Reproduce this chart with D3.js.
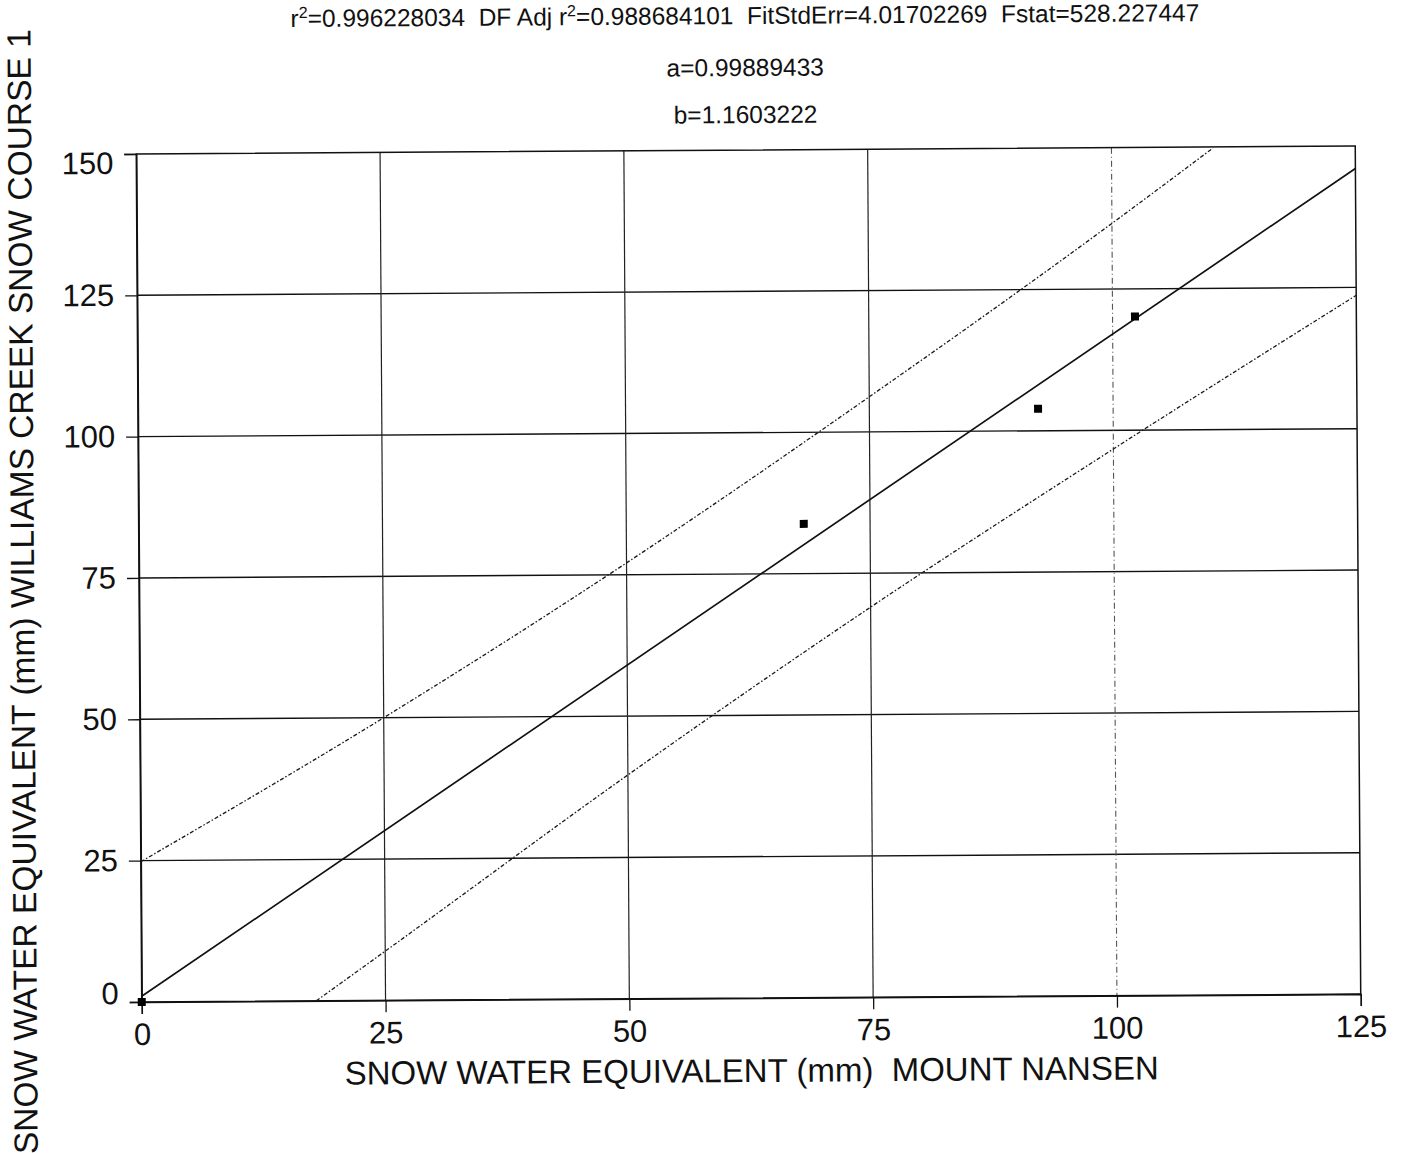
<!DOCTYPE html>
<html>
<head>
<meta charset="utf-8">
<script src="https://cdn.jsdelivr.net/npm/d3@7"></script>
<style>
  html, body { margin: 0; padding: 0; background: #fff; }
  svg { display: block; }
  text { font-family: "Liberation Sans", Arial, Helvetica, sans-serif; fill: #111; white-space: pre; }
</style>
</head>
<body>
<svg id="chart" width="1403" height="1153"></svg>
<script>
// Observed snow water equivalent pairs (mm)
const obsX = [0, 68.2, 92.3, 102.3];
const obsY = [0, 83.8, 103.9, 120.1];

// Fitted linear model y = a + b*x
const fitA = 0.99889433;
const fitB = 1.1603222;
const fitXRange = [0, 125];

// Upper and lower prediction band (mm)
const upperX = [0, 25, 50, 75, 100, 110.4];
const upperY = [24.8, 50.0, 77.1, 106.2, 136.6, 149.8];
const lowerX = [17.9, 25, 50, 75, 100, 125];
const lowerY = [0, 8.7, 39.6, 69.0, 96.7, 123.6];

// Axis ticks
const xTicks = [0, 25, 50, 75, 100, 125];
const yTicks = [0, 25, 50, 75, 100, 125, 150];

// Header statistics
const statLine = ["r", "2", "=0.996228034  DF Adj r", "2", "=0.988684101  FitStdErr=4.01702269  Fstat=528.227447"];
const coefLines = ["a=0.99889433", "b=1.1603222"];

const xTitle = "SNOW WATER EQUIVALENT (mm)  MOUNT NANSEN";
const yTitle = "SNOW WATER EQUIVALENT (mm) WILLIAMS CREEK SNOW COURSE 1";

const plot = { left: 139, right: 1358, top: 150, bottom: 998 };
const cx = (plot.left + plot.right) / 2, cy = 574;

const svg = d3.select("#chart");
const root = svg.append("g").attr("transform", `rotate(-0.37, ${cx}, ${cy})`);

const x = d3.scaleLinear().domain([0, 125]).range([plot.left, plot.right]);
const y = d3.scaleLinear().domain([0, 150]).range([plot.bottom, plot.top]);

root.append("clipPath").attr("id", "plotClip")
  .append("rect")
  .attr("x", plot.left).attr("y", plot.top)
  .attr("width", plot.right - plot.left).attr("height", plot.bottom - plot.top);

// Horizontal grid lines
root.append("g").selectAll("line").data(yTicks.filter(d => d > 0 && d < 150)).join("line")
  .attr("x1", plot.left).attr("x2", plot.right)
  .attr("y1", d => y(d)).attr("y2", d => y(d))
  .attr("stroke", "#111").attr("stroke-width", 1.4);

// Vertical grid lines
root.append("g").selectAll("line").data(xTicks.filter(d => d > 0 && d < 125)).join("line")
  .attr("x1", d => x(d)).attr("x2", d => x(d))
  .attr("y1", plot.top).attr("y2", plot.bottom)
  .attr("stroke", d => d === 100 ? "#555" : "#222")
  .attr("stroke-width", d => d === 100 ? 1.1 : 1.2)
  .attr("stroke-dasharray", d => d === 100 ? "6,3,1,3" : null);

// Plot frame
root.append("rect")
  .attr("x", plot.left).attr("y", plot.top)
  .attr("width", plot.right - plot.left).attr("height", plot.bottom - plot.top)
  .attr("fill", "none").attr("stroke", "#111").attr("stroke-width", 1.5);

// Axes with outward ticks
const yAxis = root.append("g").attr("transform", `translate(${plot.left},0)`)
  .call(d3.axisLeft(y).tickValues(yTicks).tickSize(12).tickPadding(11).tickFormat(d3.format("d")));
const xAxis = root.append("g").attr("transform", `translate(0,${plot.bottom})`)
  .call(d3.axisBottom(x).tickValues(xTicks).tickSize(12).tickPadding(8).tickFormat(d3.format("d")));

[xAxis, yAxis].forEach(ax => {
  ax.select(".domain").attr("stroke", "#111").attr("stroke-width", 1.5);
  ax.selectAll(".tick line").attr("stroke", "#111").attr("stroke-width", 1.3);
  ax.selectAll(".tick text").attr("font-size", 31).attr("fill", "#111")
    .style("font-family", '"Liberation Sans", Arial, sans-serif');
});
// End labels on the value axis sit inside the axis range
yAxis.selectAll(".tick text").attr("dy", d => d === 0 ? "0.05em" : d === 150 ? "0.62em" : "0.32em");
xAxis.selectAll(".tick text").attr("dy", "0.74em");

const plotArea = root.append("g").attr("clip-path", "url(#plotClip)");

// Prediction band
const bandLine = d3.line().x(d => x(d[0])).y(d => y(d[1])).curve(d3.curveMonotoneX);
[[upperX, upperY], [lowerX, lowerY]].forEach(([bx, by]) => {
  plotArea.append("path")
    .datum(bx.map((v, i) => [v, by[i]]))
    .attr("d", bandLine)
    .attr("fill", "none").attr("stroke", "#1a1a1a").attr("stroke-width", 1.3)
    .attr("stroke-dasharray", "4,2,1.5,2");
});

// Fitted line
plotArea.append("line")
  .attr("x1", x(fitXRange[0])).attr("y1", y(fitA + fitB * fitXRange[0]))
  .attr("x2", x(fitXRange[1])).attr("y2", y(fitA + fitB * fitXRange[1]))
  .attr("stroke", "#111").attr("stroke-width", 1.7);

// Observations
root.append("g").selectAll("rect").data(obsX.map((v, i) => [v, obsY[i]])).join("rect")
  .attr("x", d => x(d[0]) - 4).attr("y", d => y(d[1]) - 4)
  .attr("width", 8).attr("height", 8).attr("fill", "#000");

// Header statistics
const head = root.append("text").attr("x", cx).attr("y", 24)
  .attr("text-anchor", "middle").attr("font-size", 24.5);
statLine.forEach((s, i) => {
  const t = head.append("tspan").text(s);
  if (s === "2") t.attr("font-size", 16).attr("dy", -9);
  else if (i > 0 && statLine[i - 1] === "2") t.attr("dy", 9);
});
root.selectAll("text.coef").data(coefLines).join("text")
  .attr("class", "coef")
  .attr("x", cx).attr("y", (d, i) => 76 + i * 47)
  .attr("text-anchor", "middle").attr("font-size", 24.5)
  .text(d => d);

// Axis titles
root.append("text").attr("x", cx).attr("y", 1082)
  .attr("text-anchor", "middle").attr("font-size", 33).text(xTitle);
root.append("text")
  .attr("transform", `translate(34, 587) rotate(-90)`)
  .attr("text-anchor", "middle").attr("font-size", 33.5).text(yTitle);
</script>
</body>
</html>
